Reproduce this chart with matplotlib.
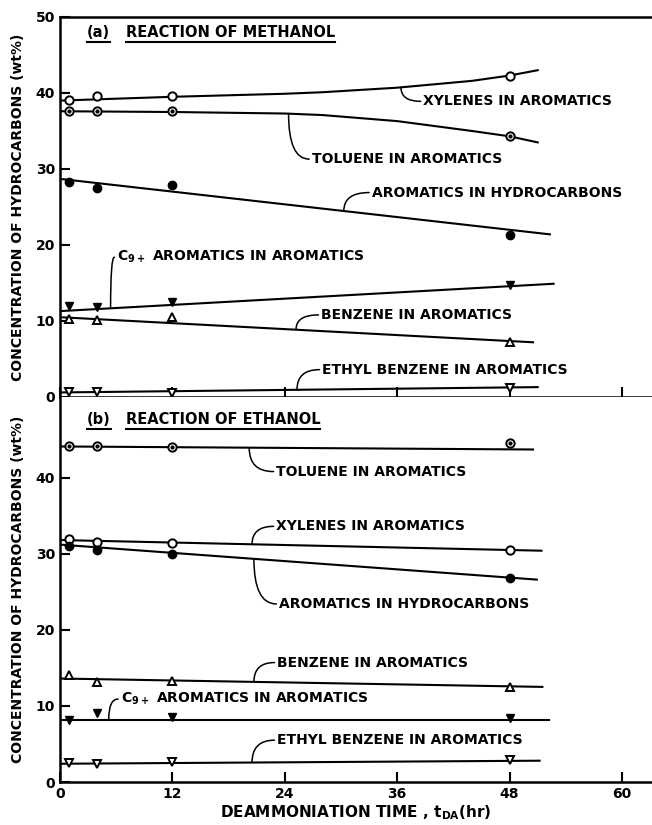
import matplotlib
matplotlib.use("Agg")
import matplotlib.pyplot as plt
from matplotlib.lines import Line2D

plt.rcParams["font.family"] = ["DejaVu Sans"]
plt.rcParams["font.weight"] = "bold"
plt.rcParams["mathtext.default"] = "bf"

# sample times (hr)
t_pts = [1, 4, 12, 48]

# ---- (a) methanol: measured points ----
a_xyl = [39.1, 39.6, 39.6, 42.3]
a_tol = [37.6, 37.6, 37.6, 34.3]
a_arom = [28.3, 27.5, 27.9, 21.3]
a_c9 = [12.0, 11.9, 12.5, 14.8]
a_benz = [10.3, 10.1, 10.5, 7.3]
a_ethyl = [0.7, 0.7, 0.5, 1.2]

# ---- (a) methanol: drawn curves ----
a_xyl_cx = [0, 12, 24, 28, 36, 44, 48, 51]
a_xyl_cy = [39.0, 39.5, 39.9, 40.1, 40.7, 41.6, 42.3, 43.0]
a_tol_cx = [0, 12, 24, 28, 36, 44, 48, 51]
a_tol_cy = [37.6, 37.5, 37.3, 37.1, 36.3, 35.0, 34.3, 33.5]
a_arom_cx = [0, 52.3]
a_arom_cy = [28.7, 21.4]
a_c9_cx = [0, 52.7]
a_c9_cy = [11.3, 14.9]
a_benz_cx = [0, 50.5]
a_benz_cy = [10.5, 7.2]
a_ethyl_cx = [0, 51]
a_ethyl_cy = [0.6, 1.3]

# ---- (b) ethanol: measured points ----
b_tol = [44.1, 44.1, 44.0, 44.6]
b_xyl = [32.0, 31.6, 31.4, 30.5]
b_arom = [31.0, 30.5, 30.0, 26.8]
b_benz = [14.1, 13.2, 13.3, 12.5]
b_c9 = [8.2, 9.1, 8.5, 8.4]
b_ethyl = [2.5, 2.4, 2.6, 2.9]

# ---- (b) ethanol: drawn lines ----
b_tol_cx = [0, 50.5]
b_tol_cy = [44.1, 43.7]
b_xyl_cx = [0, 51.4]
b_xyl_cy = [31.8, 30.4]
b_arom_cx = [0, 50.9]
b_arom_cy = [31.2, 26.6]
b_benz_cx = [0, 51.5]
b_benz_cy = [13.6, 12.5]
b_c9_cx = [0, 52.2]
b_c9_cy = [8.2, 8.2]
b_ethyl_cx = [0, 51.2]
b_ethyl_cy = [2.4, 2.8]

# labels: (text, text x, text y, line x, line y)
a_labels = [
    ("XYLENES IN AROMATICS", 38.8, 38.9, 36.4, 40.75),
    ("TOLUENE IN AROMATICS", 26.9, 31.3, 24.4, 37.3),
    ("AROMATICS IN HYDROCARBONS", 33.3, 26.9, 30.3, 24.5),
    ("C$_9$$_+$ AROMATICS IN AROMATICS", 6.1, 18.4, 5.4, 11.7),
    ("BENZENE IN AROMATICS", 27.9, 10.8, 25.2, 8.9),
    ("ETHYL BENZENE IN AROMATICS", 28.0, 3.6, 25.3, 0.95),
]
b_labels = [
    ("TOLUENE IN AROMATICS", 23.1, 40.8, 20.2, 43.9),
    ("XYLENES IN AROMATICS", 23.1, 33.6, 20.5, 31.25),
    ("AROMATICS IN HYDROCARBONS", 23.4, 23.4, 20.7, 29.35),
    ("BENZENE IN AROMATICS", 23.2, 15.7, 20.7, 13.15),
    ("C$_9$$_+$ AROMATICS IN AROMATICS", 6.5, 10.9, 5.2, 8.2),
    ("ETHYL BENZENE IN AROMATICS", 23.2, 5.5, 20.5, 2.55),
]

fig = plt.figure(figsize=(6.52, 8.25), dpi=100)
ax_a = fig.add_axes([60 / 652, 1 - 397 / 825, 592 / 652, 380 / 825])
ax_b = fig.add_axes([60 / 652, 1 - 782 / 825, 592 / 652, 385 / 825])

lw = 1.5
ms = 6


def draw_pts(ax, y, style):
    if style == "open_o":
        ax.plot(t_pts, y, "o", ms=ms, mfc="white", mec="black", mew=1.4, zorder=5)
    elif style == "dot_o":
        ax.plot(t_pts, y, "o", ms=ms, mfc="white", mec="black", mew=1.4, zorder=5)
        ax.plot(t_pts, y, "o", ms=2, mfc="black", mec="black", zorder=6)
    elif style == "fill_o":
        ax.plot(t_pts, y, "o", ms=ms, mfc="black", mec="black", zorder=5)
    elif style == "fill_v":
        ax.plot(t_pts, y, "v", ms=ms, mfc="black", mec="black", zorder=5)
    elif style == "open_v":
        ax.plot(t_pts, y, "v", ms=ms, mfc="white", mec="black", mew=1.4, zorder=5)
    elif style == "open_^":
        ax.plot(t_pts, y, "^", ms=ms, mfc="white", mec="black", mew=1.4, zorder=5)


# panel (a)
for cx, cy in [(a_xyl_cx, a_xyl_cy), (a_tol_cx, a_tol_cy), (a_arom_cx, a_arom_cy),
               (a_c9_cx, a_c9_cy), (a_benz_cx, a_benz_cy), (a_ethyl_cx, a_ethyl_cy)]:
    ax_a.plot(cx, cy, color="black", lw=lw)
draw_pts(ax_a, a_xyl, "open_o")
draw_pts(ax_a, a_tol, "dot_o")
draw_pts(ax_a, a_arom, "fill_o")
draw_pts(ax_a, a_c9, "fill_v")
draw_pts(ax_a, a_benz, "open_^")
draw_pts(ax_a, a_ethyl, "open_v")

# panel (b)
for cx, cy in [(b_tol_cx, b_tol_cy), (b_xyl_cx, b_xyl_cy), (b_arom_cx, b_arom_cy),
               (b_benz_cx, b_benz_cy), (b_c9_cx, b_c9_cy), (b_ethyl_cx, b_ethyl_cy)]:
    ax_b.plot(cx, cy, color="black", lw=lw)
draw_pts(ax_b, b_tol, "dot_o")
draw_pts(ax_b, b_xyl, "open_o")
draw_pts(ax_b, b_arom, "fill_o")
draw_pts(ax_b, b_benz, "open_^")
draw_pts(ax_b, b_c9, "fill_v")
draw_pts(ax_b, b_ethyl, "open_v")

for ax, labels in [(ax_a, a_labels), (ax_b, b_labels)]:
    for txt, tx, ty, lx, ly in labels:
        ang = 90 if ly > ty else -90
        ax.annotate("", xy=(lx, ly), xytext=(tx - 0.3, ty),
                    arrowprops=dict(arrowstyle="-", lw=1.1, color="black",
                                    shrinkA=0, shrinkB=0,
                                    connectionstyle=f"angle3,angleA=0,angleB={ang}"))
        ax.text(tx, ty, txt, ha="left", va="center", fontsize=10, fontweight="bold")

# axes styling
ax_a.set_xlim(0, 63.2)
ax_a.set_ylim(0, 50)
ax_b.set_xlim(0, 63.2)
ax_b.set_ylim(0, 50.6)
for ax in (ax_a, ax_b):
    ax.set_xticks([0, 12, 24, 36, 48, 60])
    ax.spines["right"].set_visible(False)
    for s in ("left", "bottom", "top"):
        ax.spines[s].set_linewidth(1.8)
    ax.tick_params(direction="in", length=7, width=1.5, labelsize=10)
    ax.set_ylabel("CONCENTRATION OF HYDROCARBONS (wt%)", fontsize=10,
                  fontweight="bold", labelpad=8)
    for lab in ax.get_yticklabels() + ax.get_xticklabels():
        lab.set_fontweight("bold")
ax_a.set_yticks([0, 10, 20, 30, 40, 50])
ax_a.tick_params(labelbottom=False)
ax_b.set_yticks([0, 10, 20, 30, 40])
ax_b.spines["top"].set_visible(False)
ax_b.set_xlabel("DEAMMONIATION TIME , $t_{DA}$(hr)", fontsize=11,
                fontweight="bold", labelpad=2)

# panel titles with underlines
titles = []
for ax, tag, title in [(ax_a, "(a)", "REACTION OF METHANOL"),
                       (ax_b, "(b)", "REACTION OF ETHANOL")]:
    y0 = 47.9 if ax is ax_a else 47.6
    titles.append(ax.text(2.9, y0, tag, ha="left", va="center", fontsize=10.5,
                          fontweight="bold"))
    titles.append(ax.text(7.0, y0, title, ha="left", va="center", fontsize=10.5,
                          fontweight="bold"))

fig.canvas.draw()
renderer = fig.canvas.get_renderer()
W, H = fig.bbox.width, fig.bbox.height
for t in titles:
    bb = t.get_window_extent(renderer)
    yu = bb.y0 - 2
    fig.add_artist(Line2D([bb.x0 / W, bb.x1 / W], [yu / H, yu / H],
                          transform=fig.transFigure, color="black", lw=1.5))

fig.savefig("out.png", dpi=100)
